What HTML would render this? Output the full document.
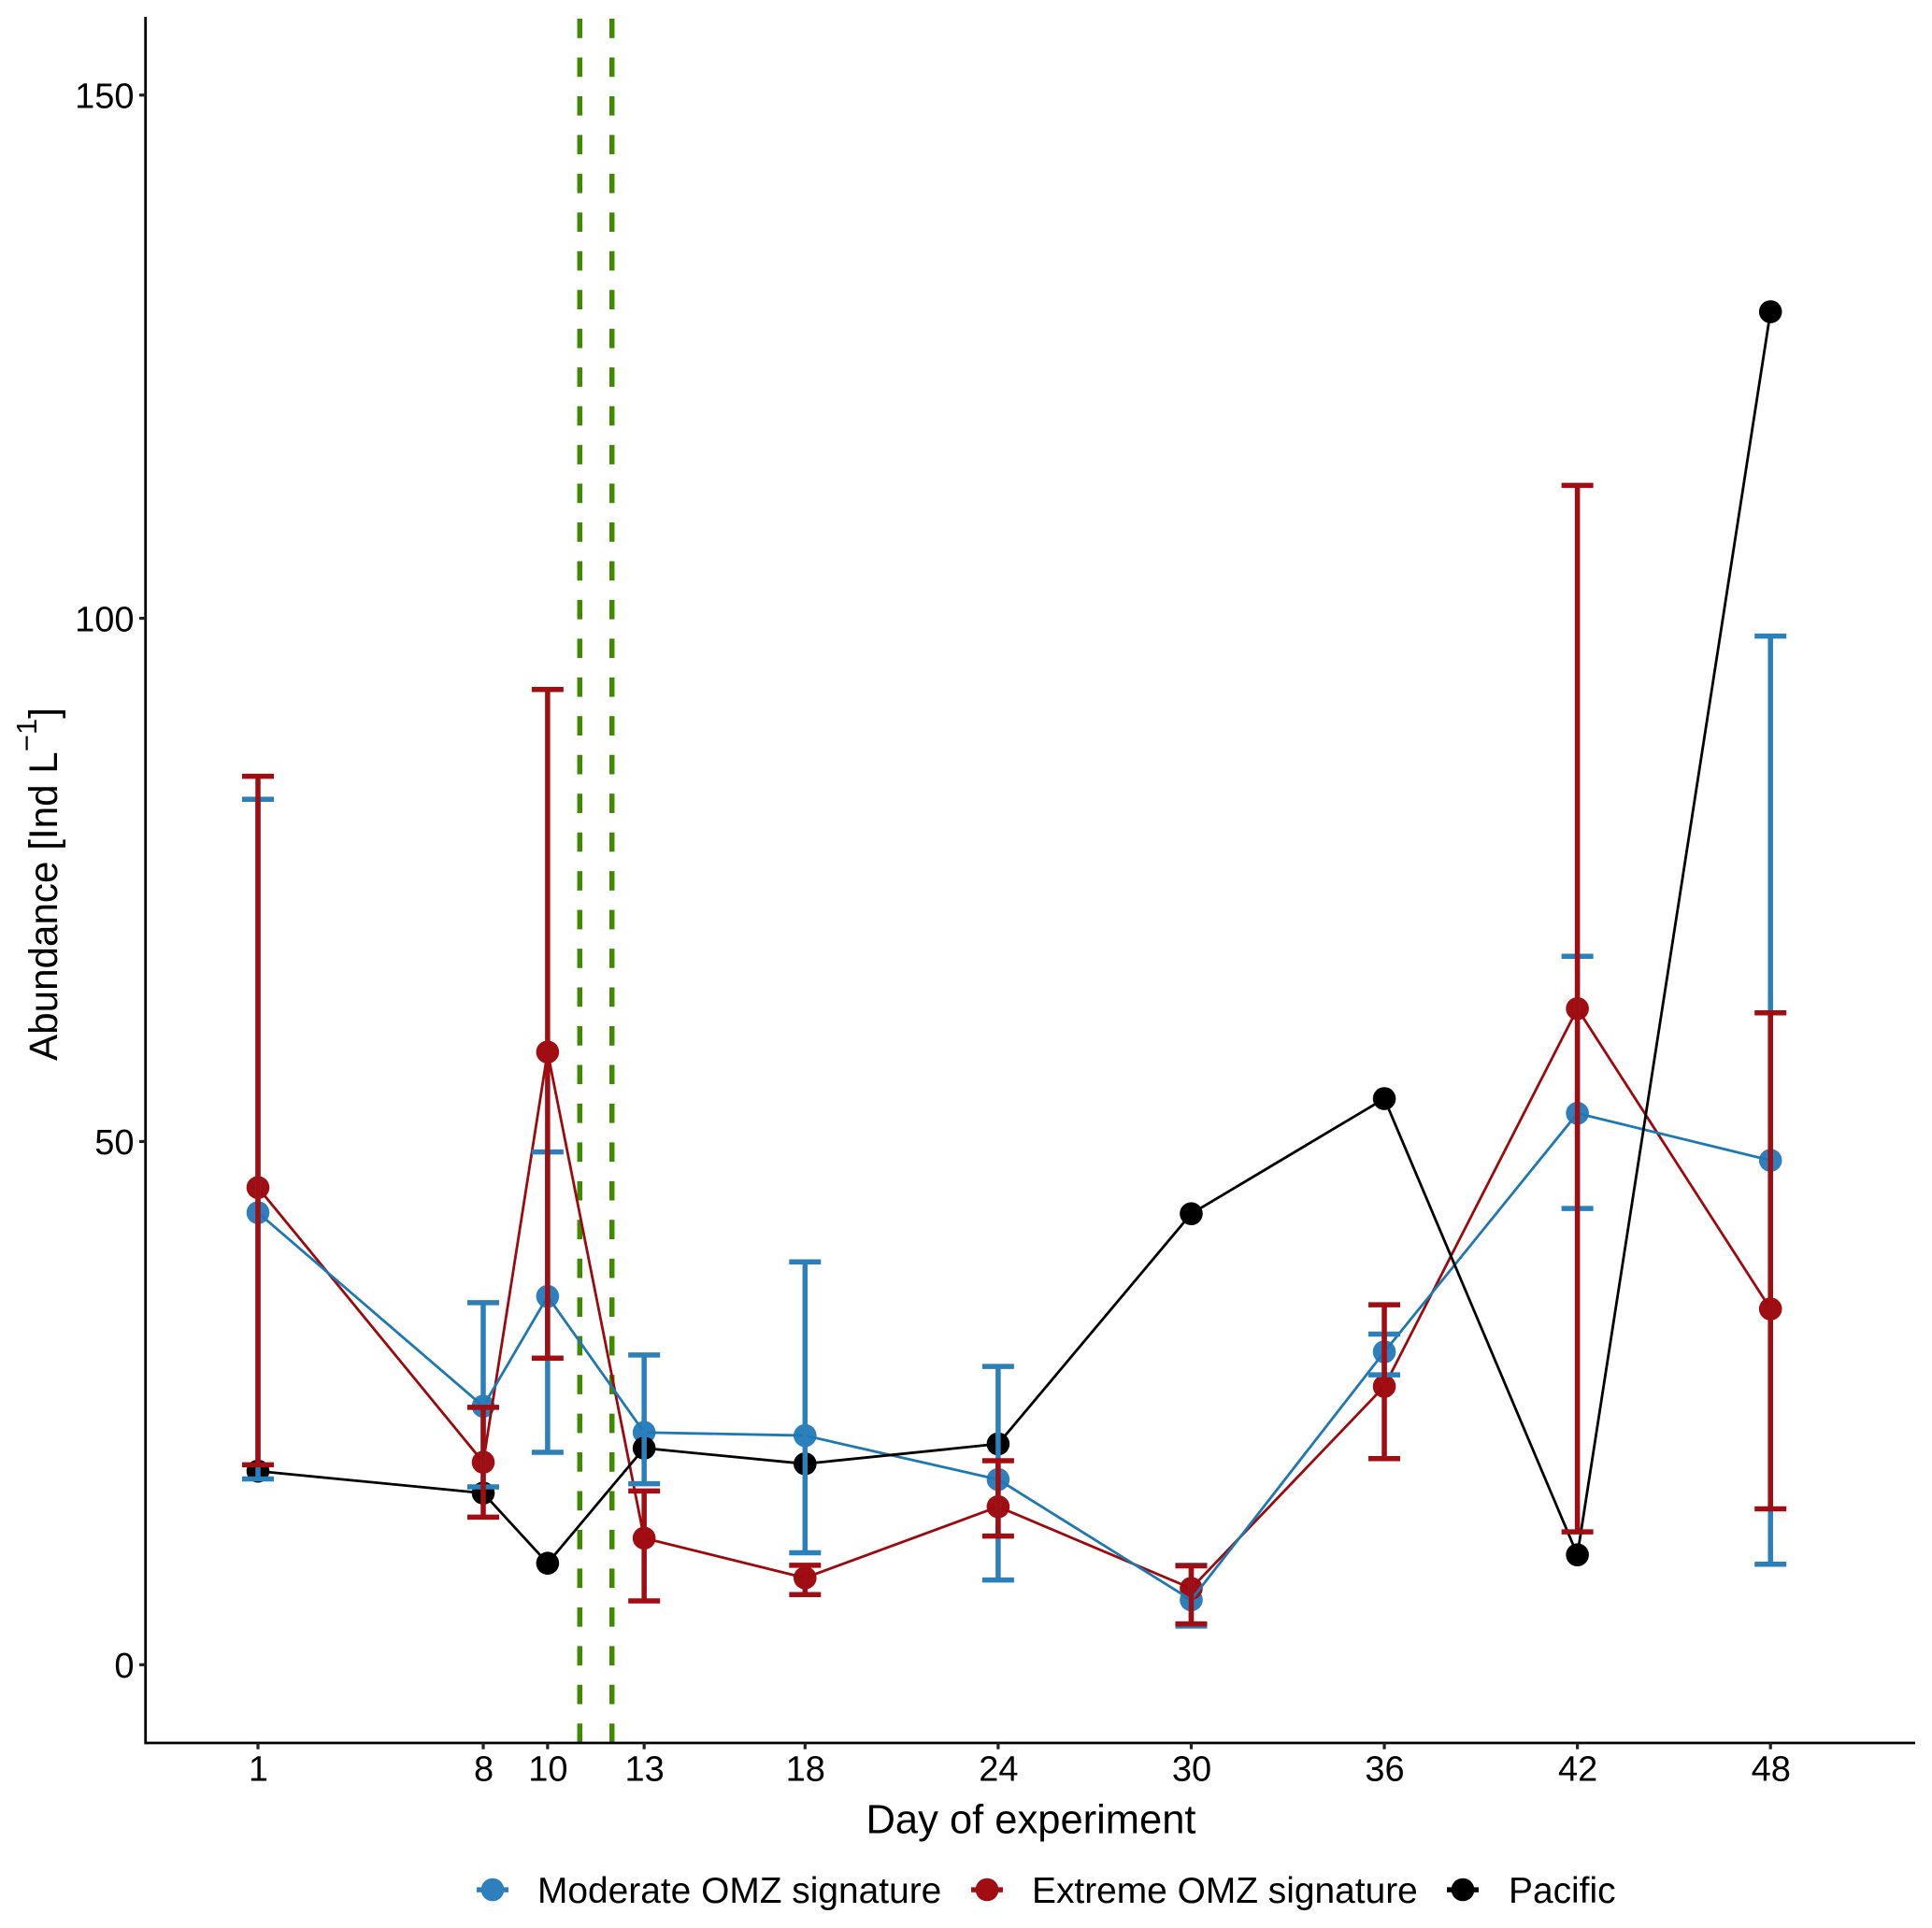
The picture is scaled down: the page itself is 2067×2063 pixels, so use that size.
<!DOCTYPE html>
<html lang="en">
<head>
<meta charset="utf-8">
<title>Abundance by day of experiment</title>
<style>
html,body{margin:0;padding:0;background:#fff;}
svg{display:block;}
text{font-family:"Liberation Sans",Arial,sans-serif;fill:#000;}
</style>
</head>
<body>
<svg id="chart" xmlns="http://www.w3.org/2000/svg" width="2067" height="2063" viewBox="0 0 2067 2063">
  <g id="reference-lines"></g>
  <g id="points"></g>
  <g id="lines"></g>
  <g id="errors"></g>
  <g id="axes"></g>
  <text x="1103" y="1961.5" font-size="43.5" text-anchor="middle">Day of experiment</text>
  <text transform="translate(61,1135) rotate(-90)" font-size="42.2">Abundance [Ind L<tspan dy="-22" font-size="31">−1</tspan><tspan dy="22" font-size="42.2">]</tspan></text>
  <g>
    <g>
      <rect x="510" y="2019.4" width="34" height="5.4" fill="#2b7fba"/>
      <circle cx="527" cy="2022" r="12.3" fill="#2e80bc"/>
      <text x="575" y="2036" font-size="38.9">Moderate OMZ signature</text>
    </g>
    <g>
      <rect x="1039" y="2019.4" width="34" height="5.4" fill="#a00d12"/>
      <circle cx="1056" cy="2022" r="12.3" fill="#a00d12"/>
      <text x="1104" y="2036" font-size="38.9">Extreme OMZ signature</text>
    </g>
    <g>
      <rect x="1548" y="2019.4" width="34" height="5.4" fill="#000"/>
      <circle cx="1565" cy="2022" r="12.3" fill="#000"/>
      <text x="1614" y="2036" font-size="38.9">Pacific</text>
    </g>
  </g>
</svg>
<script>
const days = [1, 8, 10, 13, 18, 24, 30, 36, 42, 48];
const xTickLabels = [1, 8, 10, 13, 18, 24, 30, 36, 42, 48];
const yTickLabels = [0, 50, 100, 150];
const markerDays = [11, 12];

const moderateMean  = [43.2, 24.7, 35.2, 22.2, 21.9, 17.7, 6.2, 29.9, 52.7, 48.2];
const moderateUpper = [82.7, 34.6, 49.0, 29.6, 38.5, 28.5, 9.5, 31.6, 67.7, 98.3];
const moderateLower = [17.75, 17.0, 20.3, 17.3, 10.7, 8.1, 3.7, 27.7, 43.6, 9.6];

const extremeMean  = [45.6, 19.35, 58.55, 12.1, 8.3, 15.1, 7.3, 26.6, 62.7, 34.0];
const extremeUpper = [84.9, 24.6, 93.2, 16.6, 9.5, 19.5, 9.45, 34.4, 112.7, 62.3];
const extremeLower = [19.1, 14.1, 29.3, 6.1, 6.7, 12.3, 3.9, 19.7, 12.7, 14.9];

const pacificMean = [18.5, 16.4, 9.7, 20.7, 19.2, 21.1, 43.1, 54.1, 10.5, 129.3];

const NS = 'http://www.w3.org/2000/svg';
const PLOT_LEFT = 155.7, PLOT_RIGHT = 2049, PLOT_TOP = 18, PLOT_BOTTOM = 1865;

function x(day) { return 276 + (day - 1) * 34.43; }
function y(value) { return 1781.3 - value * 11.197; }

function make(parent, tag, attrs) {
  const el = document.createElementNS(NS, tag);
  for (const k in attrs) el.setAttribute(k, attrs[k]);
  parent.appendChild(el);
  return el;
}

const refGroup = document.getElementById('reference-lines');
const pointGroup = document.getElementById('points');
const lineGroup = document.getElementById('lines');
const errorGroup = document.getElementById('errors');
const axisGroup = document.getElementById('axes');

markerDays.forEach(function (d) {
  const el = make(refGroup, 'line', {
    x1: x(d), x2: x(d), y1: PLOT_BOTTOM, y2: 19.6,
    stroke: '#3f8a00', 'stroke-width': 5.5, 'stroke-dasharray': '20.73 20.73'
  });
  
  
});

function drawPoints(name, means, color) {
  means.forEach(function (v, i) {
    const el = make(pointGroup, 'circle', { cx: x(days[i]), cy: y(v), r: 12.3, fill: color });
    
    
  });
}

function drawLine(name, means, color) {
  const pts = means.map(function (v, i) { return x(days[i]) + ',' + y(v); }).join(' ');
  const el = make(lineGroup, 'polyline', {
    points: pts, fill: 'none', stroke: color, 'stroke-width': 2.8, 'stroke-linejoin': 'round'
  });
  
  
}

function drawErrors(name, upper, lower, color) {
  days.forEach(function (d, i) {
    const g = make(errorGroup, 'g', {});
    
    
    const segs = [
      [x(d), y(upper[i]), x(d), y(lower[i])],
      [x(d) - 17, y(upper[i]), x(d) + 17, y(upper[i])],
      [x(d) - 17, y(lower[i]), x(d) + 17, y(lower[i])]
    ];
    segs.forEach(function (s) {
      make(g, 'line', { x1: s[0], y1: s[1], x2: s[2], y2: s[3], stroke: color, 'stroke-width': 5.5 });
    });
  });
}

drawPoints('moderate', moderateMean, '#2e80bc');
drawPoints('extreme', extremeMean, '#a00d12');
drawPoints('pacific', pacificMean, '#000000');
drawLine('extreme', extremeMean, '#9c0a0e');
drawLine('moderate', moderateMean, '#1f78b4');
drawLine('pacific', pacificMean, '#000000');
drawErrors('moderate', moderateUpper, moderateLower, '#2b7fba');
drawErrors('extreme', extremeUpper, extremeLower, '#a00d12');

const yAxis = make(axisGroup, 'line', { x1: PLOT_LEFT, x2: PLOT_LEFT, y1: PLOT_TOP, y2: PLOT_BOTTOM + 1.4, stroke: '#000', 'stroke-width': 2.8 });


const xAxis = make(axisGroup, 'line', { x1: PLOT_LEFT, x2: PLOT_RIGHT, y1: PLOT_BOTTOM, y2: PLOT_BOTTOM, stroke: '#000', 'stroke-width': 2.8 });



yTickLabels.forEach(function (v) {
  const tick = make(axisGroup, 'line', { x1: 149, x2: PLOT_LEFT, y1: y(v), y2: y(v), stroke: '#222', 'stroke-width': 3.2 });
  
  
  const label = make(axisGroup, 'text', { x: 143.5, y: y(v) + 13.7, 'text-anchor': 'end', 'font-size': 38 });
  label.textContent = v;
  
  
});

xTickLabels.forEach(function (d) {
  const tick = make(axisGroup, 'line', { x1: x(d), x2: x(d), y1: PLOT_BOTTOM, y2: 1871.7, stroke: '#222', 'stroke-width': 3.2 });
  
  
  const label = make(axisGroup, 'text', { x: x(d) + 0.5, y: 1905.5, 'text-anchor': 'middle', 'font-size': 38 });
  label.textContent = d;
  
  
});
</script>
</body>
</html>
